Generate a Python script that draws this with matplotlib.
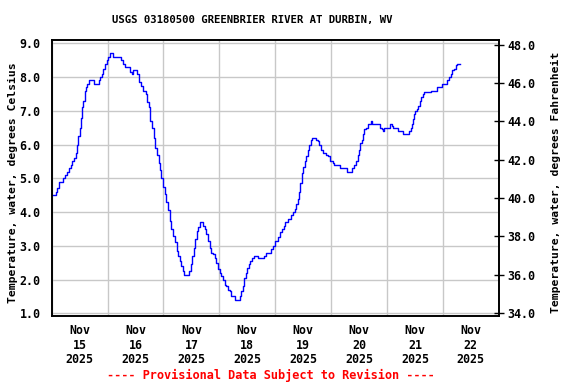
import matplotlib
matplotlib.use("Agg")
import matplotlib.pyplot as plt
import matplotlib.dates as mdates
import numpy as np
import pandas as pd

title = "USGS 03180500 GREENBRIER RIVER AT DURBIN, WV"
ylabel_left = "Temperature, water, degrees Celsius"
ylabel_right = "Temperature, water, degrees Fahrenheit"
footer = "---- Provisional Data Subject to Revision ----"
start = pd.Timestamp("2025-11-15 00:00")
day_labels = ["Nov\n15\n2025", "Nov\n16\n2025", "Nov\n17\n2025", "Nov\n18\n2025",
              "Nov\n19\n2025", "Nov\n20\n2025", "Nov\n21\n2025", "Nov\n22\n2025"]
left_ticks = [1.0, 2.0, 3.0, 4.0, 5.0, 6.0, 7.0, 8.0, 9.0]
right_ticks = [34.0, 36.0, 38.0, 40.0, 42.0, 44.0, 46.0, 48.0]

# hours since Nov 15 00:00
hours = [0.0, 1.6, 1.7, 2.4, 3.3, 4.0, 4.7, 5.7, 6.4, 7.6, 8.1, 8.8, 9.6, 10.3, 10.7,
         11.4, 12.1, 12.6, 13.0, 13.6, 14.1, 14.7, 15.3, 15.8, 17.8, 18.3, 19.6, 20.1,
         20.7, 21.4, 22.1, 22.8, 23.6, 24.3, 25.0, 26.1, 26.4, 29.3, 29.7, 30.7, 31.6,
         33.3, 33.6, 34.3, 35.0, 36.1, 36.7, 37.4, 38.3, 39.3, 40.4, 41.0, 41.8, 42.4,
         43.1, 43.8, 44.4, 45.3, 46.0, 46.6, 47.1, 47.8, 48.6, 49.3, 50.0, 50.7, 51.4,
         52.1, 52.8, 53.6, 54.3, 55.0, 55.7, 56.4, 57.0, 58.6, 59.1, 59.7, 60.3, 61.0,
         61.7, 62.3, 62.8, 63.6, 64.3, 65.0, 65.7, 66.4, 67.1, 67.8, 68.6, 69.3, 70.0,
         70.7, 71.4, 72.1, 72.8, 73.6, 74.3, 75.0, 75.7, 76.4, 77.1, 78.6, 80.4, 80.7,
         81.4, 82.1, 82.8, 83.3, 83.8, 84.6, 85.3, 86.0, 87.1, 88.6, 88.8, 90.7, 91.1,
         92.1, 93.1, 94.0, 95.0, 96.0, 97.1, 98.0, 98.8, 99.7, 100.4, 101.4, 102.6,
         103.6, 104.6, 105.1, 105.7, 106.3, 106.8, 107.4, 108.0, 108.6, 109.3, 110.0,
         110.7, 111.4, 112.0, 112.8, 113.6, 114.3, 115.0, 115.7, 116.4, 117.8, 118.6,
         118.8, 119.7, 120.7, 121.4, 123.6, 124.0, 126.4, 126.8, 128.6, 128.8, 129.7,
         130.7, 131.4, 132.0, 132.6, 133.3, 133.8, 134.3, 135.0, 135.7, 136.8, 137.1,
         137.6, 140.4, 140.8, 141.7, 142.3, 142.6, 145.0, 145.3, 146.0, 146.6, 148.6,
         148.8, 150.4, 150.7, 153.3, 153.6, 154.3, 154.9, 155.1, 155.7, 156.1, 156.7,
         157.4, 158.0, 158.6, 159.3, 159.7, 162.6, 162.8, 165.0, 165.4, 167.1, 167.6,
         169.3, 169.7, 170.7, 171.4, 172.1, 172.8, 173.6, 174.3, 175.3]
temps = [4.5, 4.5, 4.6, 4.7, 4.9, 4.9, 5.0, 5.1, 5.2, 5.3, 5.4, 5.5, 5.6, 5.75, 6.0,
         6.25, 6.5, 6.8, 7.1, 7.3, 7.6, 7.7, 7.8, 7.9, 7.9, 7.8, 7.8, 7.9,
         8.0, 8.1, 8.25, 8.4, 8.5, 8.6, 8.7, 8.7, 8.6, 8.6, 8.5, 8.4, 8.3,
         8.3, 8.15, 8.1, 8.2, 8.2, 8.1, 7.85, 7.75, 7.6, 7.5, 7.25, 7.1, 6.7,
         6.5, 6.2, 5.9, 5.7, 5.45, 5.25, 5.0, 4.75, 4.55, 4.3, 4.05, 3.75, 3.5,
         3.3, 3.1, 2.85, 2.7, 2.55, 2.4, 2.25, 2.15, 2.15, 2.25, 2.45, 2.7, 2.95,
         3.2, 3.45, 3.55, 3.7, 3.7, 3.6, 3.5, 3.35, 3.15, 2.95, 2.8, 2.75, 2.65,
         2.5, 2.3, 2.2, 2.1, 2.0, 1.85, 1.8, 1.7, 1.65, 1.5, 1.4, 1.4, 1.5,
         1.65, 1.8, 2.05, 2.2, 2.35, 2.45, 2.55, 2.65, 2.7, 2.7, 2.65, 2.65, 2.7,
         2.8, 2.8, 2.9, 3.0, 3.15, 3.25, 3.4, 3.5, 3.6, 3.7, 3.8, 3.9,
         4.0, 4.1, 4.25, 4.4, 4.6, 4.85, 5.15, 5.35, 5.5, 5.65, 5.85,
         6.0, 6.15, 6.2, 6.2, 6.15, 6.1, 6.0, 5.85, 5.75, 5.7, 5.65,
         5.65, 5.5, 5.45, 5.4, 5.4, 5.3, 5.3, 5.2, 5.2, 5.3, 5.4,
         5.5, 5.7, 5.85, 6.05, 6.15, 6.3, 6.45, 6.5, 6.6, 6.6, 6.7,
         6.6, 6.6, 6.5, 6.45, 6.4, 6.5, 6.5, 6.6, 6.55, 6.5, 6.5,
         6.4, 6.4, 6.3, 6.3, 6.4, 6.5, 6.6, 6.75, 6.9, 7.0, 7.05,
         7.15, 7.3, 7.4, 7.5, 7.55, 7.55, 7.6, 7.6, 7.7, 7.7, 7.8,
         7.8, 7.9, 8.0, 8.1, 8.2, 8.25, 8.35, 8.4, 8.4]

times = start + pd.to_timedelta(hours, unit="h")

FONT = "DejaVu Sans Mono"
fs = 8.4

fig = plt.figure(figsize=(5.76, 3.84), dpi=100)
ax = fig.add_axes([0.0898, 0.177, 0.776, 0.719])
ax.plot(times, temps, color="#0000ff", lw=1.0, drawstyle="steps-post")

ax.set_xlim(start, start + pd.Timedelta(days=8))
ax.set_ylim(0.92, 9.1)
ax.set_yticks(left_ticks)
ax.set_yticklabels([f"{v:.1f}" for v in left_ticks], family=FONT, fontsize=fs, fontweight="bold")
ax.xaxis.set_major_locator(mdates.DayLocator())
ax.xaxis.set_major_formatter(plt.NullFormatter())
noon = [start + pd.Timedelta(hours=12 + 24 * i) for i in range(len(day_labels))]
ax.set_xticks(noon, minor=True)
ax.set_xticklabels(day_labels, minor=True, family=FONT, fontsize=fs, fontweight="bold",
                   linespacing=1.15)
ax.tick_params(axis="x", which="both", length=0)
ax.tick_params(axis="x", which="minor", pad=6)
ax.tick_params(axis="y", length=0, pad=8)
ax.grid(True, which="major", color="#c8c8c8", lw=1.0)
ax.set_axisbelow(True)
for s in ax.spines.values():
    s.set_linewidth(1.2)
    s.set_color("black")
ax.set_ylabel(ylabel_left, family=FONT, fontsize=8.2, fontweight="bold")
ax.yaxis.set_label_coords(-0.076, 0.482)

ax2 = ax.twinx()
ax2.set_ylim(33.83, 48.26)
ax2.set_yticks(right_ticks)
ax2.set_yticklabels([f"{v:.1f}" for v in right_ticks], family=FONT, fontsize=fs, fontweight="bold")
ax2.tick_params(axis="y", direction="inout", length=7, width=1.0, pad=3)
ax2.set_ylabel(ylabel_right, family=FONT, fontsize=8.2, fontweight="bold")
ax2.yaxis.set_label_coords(1.116, 0.483)
for s in ax2.spines.values():
    s.set_linewidth(1.2)

fig.text(0.4375, 0.948, title, ha="center", va="center", family=FONT, fontsize=7.7,
         fontweight="bold")
fig.text(0.4705, 0.023, footer, ha="center", va="center", family=FONT, fontsize=8.6,
         fontweight="bold", color="#ff0000")

fig.savefig("out.png", dpi=100)
